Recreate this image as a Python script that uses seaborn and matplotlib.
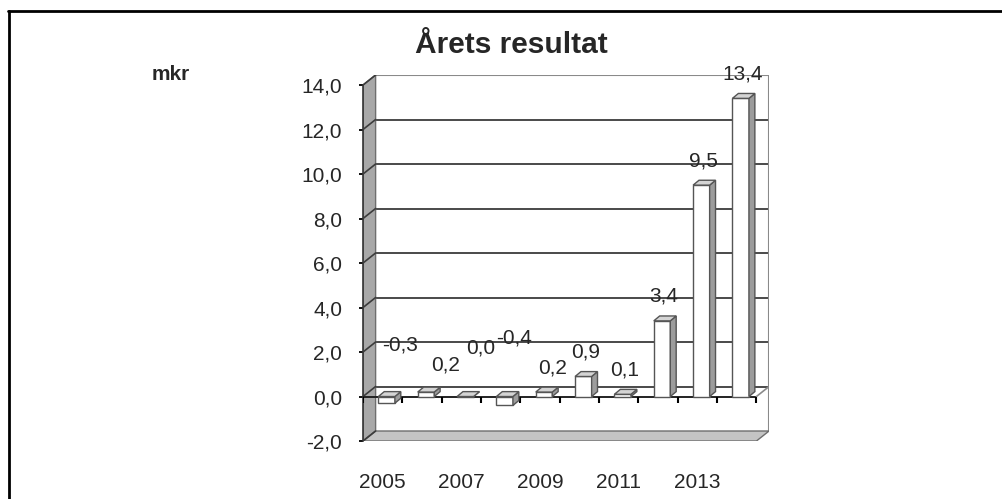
import numpy as np
import matplotlib.pyplot as plt
import seaborn as sns
from matplotlib.patches import Polygon
from matplotlib.lines import Line2D

# Data
years = [2005, 2006, 2007, 2008, 2009, 2010, 2011, 2012, 2013, 2014]
result = [-0.3, 0.2, 0.0, -0.4, 0.2, 0.9, 0.1, 3.4, 9.5, 13.4]
y_ticks = [-2, 0, 2, 4, 6, 8, 10, 12, 14]
year_labels = ["2005", "", "2007", "", "2009", "", "2011", "", "2013", ""]

# label nudges (excel moves the crowded small labels around)
label_nudge_x = [0.3, 0.45, 0.33, 0.2, 0.18, 0, 0, 0, 0, 0]
label_nudge_y = [1.2, 0.1, 1.1, 1.55, 0, 0, 0, 0, 0, 0]

sns.set_style("white")
plt.rcParams["font.family"] = ["Liberation Sans", "DejaVu Sans"]

fig = plt.figure(figsize=(10.02, 4.99), dpi=100)
ax = fig.add_axes([0.3623, 0.1162, 0.4052, 0.7335])

# fake 3d depth (category units, value units)
wall_dx, wall_dy = 0.32, 0.45
bar_dx, bar_dy = 0.15, 0.22
edge = "#555555"

# ==================================================
# Bars
# ==================================================
sns.barplot(
    x=[str(y) for y in years], y=result, color="white", saturation=1,
    edgecolor=edge, linewidth=1.0, width=0.42, ax=ax, zorder=5
)

for p in list(ax.patches):
    p.set_x(p.get_x() + 0.1)
    x0 = p.get_x()
    w = p.get_width()
    top = max(p.get_y(), p.get_y() + p.get_height())
    bottom = min(p.get_y(), p.get_y() + p.get_height())
    side = Polygon(
        [(x0 + w, bottom), (x0 + w + bar_dx, bottom + bar_dy),
         (x0 + w + bar_dx, top + bar_dy), (x0 + w, top)],
        closed=True, fc="#9c9c9c", ec=edge, lw=1.0, zorder=5
    )
    lid = Polygon(
        [(x0, top), (x0 + bar_dx, top + bar_dy),
         (x0 + w + bar_dx, top + bar_dy), (x0 + w, top)],
        closed=True, fc="#d4d4d4", ec=edge, lw=1.0, zorder=5
    )
    ax.add_patch(side)
    ax.add_patch(lid)

# ==================================================
# Walls, floor and gridlines
# ==================================================
x_left = -0.5
x_right = len(years) - 0.5

left_wall = Polygon(
    [(x_left, -2), (x_left, 14), (x_left + wall_dx, 14 + wall_dy),
     (x_left + wall_dx, -2 + wall_dy)],
    closed=True, fc="#a8a8a8", ec="#6e6e6e", lw=1.0, zorder=2
)
floor = Polygon(
    [(x_left, -2), (x_right, -2), (x_right + wall_dx, -2 + wall_dy),
     (x_left + wall_dx, -2 + wall_dy)],
    closed=True, fc="#c4c4c4", ec="#6e6e6e", lw=1.0, zorder=2
)
ax.add_patch(left_wall)
ax.add_patch(floor)

grid_levels = [t for t in y_ticks if t >= 0]
ax.hlines([t + wall_dy for t in grid_levels[:-1]], x_left + wall_dx, x_right + wall_dx,
          color="#3c3c3c", lw=1.3, zorder=1)
ax.hlines(14 + wall_dy, x_left + wall_dx, x_right + wall_dx, color="#8a8a8a", lw=1.5, zorder=1)
ax.vlines(x_right + wall_dx, -2 + wall_dy, 14 + wall_dy, color="#8a8a8a", lw=1.5, zorder=1)
for t in y_ticks:
    ax.plot([x_left, x_left + wall_dx], [t, t + wall_dy], color="#3c3c3c", lw=1.2, zorder=3)

# zero plane
ax.hlines(0, x_left, x_right, color="#222222", lw=1.4, zorder=4)
ax.plot([x_right, x_right + wall_dx], [0, wall_dy], color="#8a8a8a", lw=1.2, zorder=4)
ax.vlines(np.arange(len(years) + 1) - 0.5, -0.28, 0, color="black", lw=1.5, zorder=4)

# ==================================================
# Data labels
# ==================================================
for i, v in enumerate(result):
    ax.text(
        i + 0.15 + label_nudge_x[i], max(v, 0) + 1.1 + label_nudge_y[i],
        f"{v:.1f}".replace(".", ","), ha="center", va="center",
        fontsize=15, zorder=6, clip_on=False
    )

# ==================================================
# Axes
# ==================================================
ax.set_xlim(x_left, x_right + wall_dx)
ax.set_ylim(-2, 14 + wall_dy)
ax.set_yticks(y_ticks)
ax.set_yticklabels([f"{t:.1f}".replace(".", ",") for t in y_ticks])
ax.set_xticks(range(len(years)))
ax.set_xticklabels(year_labels)
ax.set_xlabel("")
ax.set_ylabel("")
ax.tick_params(axis="y", direction="out", length=3, width=1.3, pad=12,
               labelsize=15, left=True, color="black")
ax.tick_params(axis="x", length=0, pad=23, labelsize=15)

for s in ["top", "right", "bottom"]:
    ax.spines[s].set_visible(False)
ax.spines["left"].set_bounds(-2, 14)
ax.spines["left"].set_color("#333333")
ax.spines["left"].set_linewidth(1.2)
ax.patch.set_visible(False)

# Title and unit
fig.text(511 / 1002, 1 - 53 / 499, "Årets resultat", ha="center", va="baseline",
         fontsize=21.5, weight="bold")
fig.text(152 / 1002, 1 - 80 / 499, "mkr", ha="left", va="baseline",
         fontsize=15, weight="bold")

# Chart frame
fig.add_artist(Line2D([8 / 1002, 1], [1 - 10.5 / 499, 1 - 10.5 / 499],
                      transform=fig.transFigure, color="black", lw=2))
fig.add_artist(Line2D([8.5 / 1002, 8.5 / 1002], [0, 1 - 10.5 / 499],
                      transform=fig.transFigure, color="black", lw=2))

fig.savefig("out.png", dpi=100)
